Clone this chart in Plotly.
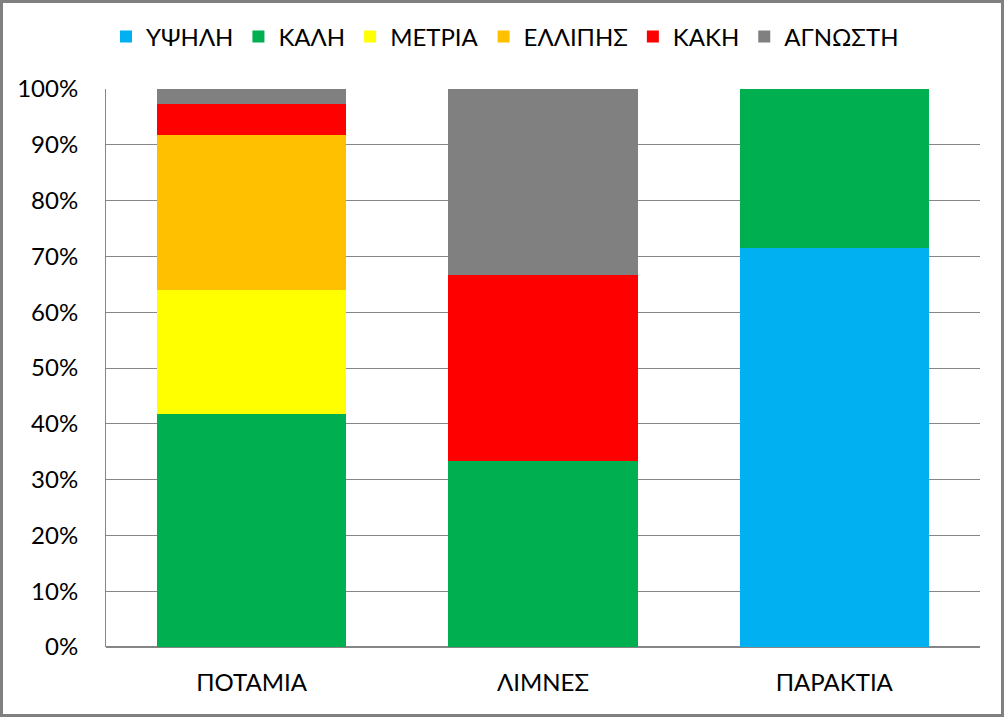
import plotly.graph_objects as go

categories = ["ΠΟΤΑΜΙΑ", "ΛΙΜΝΕΣ", "ΠΑΡΑΚΤΙΑ"]
series_names = ["ΥΨΗΛΗ", "ΚΑΛΗ", "ΜΕΤΡΙΑ", "ΕΛΛΙΠΗΣ", "ΚΑΚΗ", "ΑΓΝΩΣΤΗ"]
upsili = [0, 0, 71.43]
kali = [41.67, 33.33, 28.57]
metria = [22.22, 0, 0]
ellipis = [27.78, 0, 0]
kaki = [5.56, 33.33, 0]
agnosti = [2.78, 33.34, 0]
colors = ["#00B0F0", "#00B050", "#FFFF00", "#FFC000", "#FF0000", "#808080"]
y_ticks = [0, 10, 20, 30, 40, 50, 60, 70, 80, 90, 100]
y_labels = [f"{v}%" for v in y_ticks]

FONT = "Lato, 'Open Sans', sans-serif"
W, H = 1004, 717
L, R, T, B = 106, 24, 89, 70
pw, ph = W - L - R, H - T - B

fig = go.Figure()
for name, vals, col in zip(series_names, [upsili, kali, metria, ellipis, kaki, agnosti], colors):
    fig.add_trace(go.Bar(x=categories, y=vals, name=name, marker=dict(color=col, line=dict(width=0)), width=0.65))

fig.update_layout(
    barmode="stack",
    width=W, height=H,
    margin=dict(l=L, r=R, t=T, b=B),
    paper_bgcolor="white", plot_bgcolor="white",
    font=dict(family=FONT, size=24, color="black"),
    legend=dict(orientation="h", x=(505 - L) / pw, xanchor="center", y=1 + (T - 37) / ph, yanchor="middle",
                font=dict(size=24), itemwidth=30, traceorder="normal"),
    xaxis=dict(showgrid=False, showline=False, tickfont=dict(size=24), ticks="outside", ticklen=14, tickcolor="rgba(0,0,0,0)"),
    yaxis=dict(range=[0, 100], tickvals=y_ticks, ticktext=y_labels, showgrid=True, gridcolor="#868686", gridwidth=1,
               showline=True, linecolor="#868686", linewidth=1, zeroline=True, zerolinecolor="#868686",
               ticks="outside", ticklen=22, tickcolor="rgba(0,0,0,0)", tickfont=dict(size=24)),
    shapes=[dict(type="rect", xref="paper", yref="paper",
                 x0=(1.5 - L) / pw, x1=(W - 1.5 - L) / pw,
                 y0=(H - B - (H - 1.5)) / ph, y1=(H - B - 1.5) / ph,
                 line=dict(color="#808080", width=3), fillcolor="rgba(0,0,0,0)", layer="above")],
)
fig.write_html("out.html")
